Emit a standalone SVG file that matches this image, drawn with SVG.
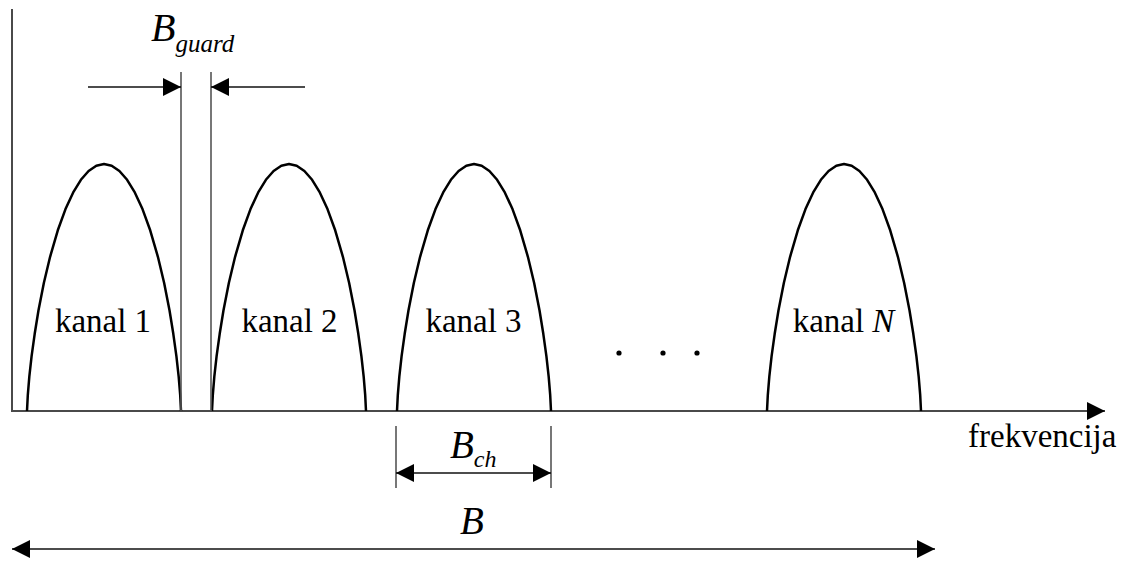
<svg xmlns="http://www.w3.org/2000/svg" xmlns:xlink="http://www.w3.org/1999/xlink" width="1129" height="561" viewBox="0 0 1129 561">
<style>
.axis{stroke:#4a4a4a;stroke-width:2;fill:none}
.arch{stroke:#000;stroke-width:2.5;fill:none;stroke-linejoin:round}
.guide{stroke:#555;stroke-width:1.6;fill:none}
.dim{stroke:#111;stroke-width:1.6;fill:none}
text{font-family:'Liberation Serif','Tinos','Times New Roman','DejaVu Serif','Noto Serif',serif}
.lbl{font-size:33px;fill:#000}
.sym{font-style:italic;fill:#000}
</style>
<defs>
<marker id="ah" viewBox="0 0 18 18" refX="18" refY="9" markerWidth="18" markerHeight="18" markerUnits="userSpaceOnUse" orient="auto-start-reverse">
<path d="M0,0 L18,9 L0,18 Z" fill="#000"/>
</marker>
<path id="archShape" d="M-77,0 L-76.2,-15.9 L-74.7,-34.1 L-72.4,-54.8 L-69.3,-77.2 L-65.5,-100.7 L-60.1,-128.2 L-53.9,-154.2 L-46.2,-180.7 L-38.5,-201.9 L-30.8,-218.6 L-23.1,-231.2 L-15.4,-240 L-7.7,-245.3 L0,-247 L7.7,-245.3 L15.4,-240 L23.1,-231.2 L30.8,-218.6 L38.5,-201.9 L46.2,-180.7 L53.9,-154.2 L60.1,-128.2 L65.5,-100.7 L69.3,-77.2 L72.4,-54.8 L74.7,-34.1 L76.2,-15.9 L77,0"/>
</defs>
<rect width="1129" height="561" fill="#fff"/>

<g id="axes">
<line class="axis" x1="12" y1="9" x2="12" y2="411"/>
<line class="axis" x1="11" y1="411" x2="1105" y2="411" marker-end="url(#ah)"/>
<text class="lbl" x="968" y="447" font-family="Liberation Serif, serif">frekvencija</text>
</g>

<g id="kanal1">
<use href="#archShape" class="arch" transform="translate(104,411)"/>
<text class="lbl" x="103" y="332" text-anchor="middle">kanal 1</text>
</g>
<g id="kanal2">
<use href="#archShape" class="arch" transform="translate(289,411)"/>
<text class="lbl" x="289.5" y="332" text-anchor="middle">kanal 2</text>
</g>
<g id="kanal3">
<use href="#archShape" class="arch" transform="translate(474,411)"/>
<text class="lbl" x="473.5" y="332" text-anchor="middle">kanal 3</text>
</g>
<g id="dots" fill="#000">
<circle cx="619" cy="353" r="2.6"/>
<circle cx="663" cy="353" r="2.6"/>
<circle cx="697" cy="353" r="2.6"/>
</g>
<g id="kanalN">
<use href="#archShape" class="arch" transform="translate(844,411)"/>
<text class="lbl" x="843.5" y="332" text-anchor="middle">kanal <tspan font-style="italic">N</tspan></text>
</g>

<g id="connectors">
<line class="guide" x1="181" y1="72" x2="181" y2="411"/>
<line class="guide" x1="211" y1="72" x2="211" y2="411"/>
<line class="dim" x1="88" y1="87" x2="181" y2="87" marker-end="url(#ah)"/>
<line class="dim" x1="305" y1="87" x2="211" y2="87" marker-end="url(#ah)"/>
<line class="guide" x1="396" y1="426" x2="396" y2="488"/>
<line class="guide" x1="551" y1="426" x2="551" y2="488"/>
<line class="dim" x1="396" y1="473" x2="551" y2="473" marker-start="url(#ah)" marker-end="url(#ah)"/>
<line class="dim" x1="12" y1="549" x2="935" y2="549" marker-start="url(#ah)" marker-end="url(#ah)"/>
</g>

<g id="labels">
<text class="sym" x="151" y="41" font-size="40">B<tspan font-size="25" dy="11">guard</tspan></text>
<text class="sym" x="450" y="458" font-size="39">B<tspan font-size="24" dy="9">ch</tspan></text>
<text class="sym" x="460" y="534" font-size="39">B</text>
</g>
</svg>
